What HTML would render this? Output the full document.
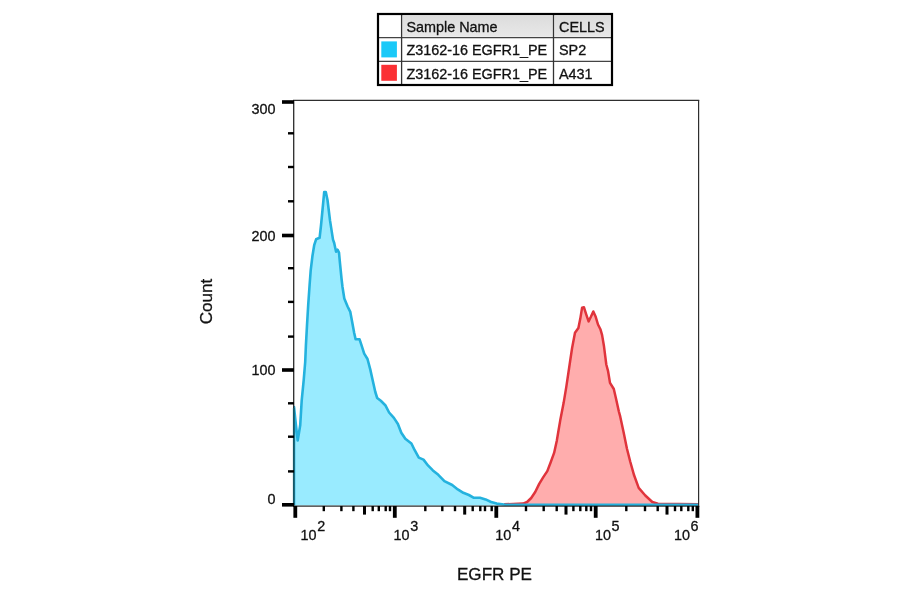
<!DOCTYPE html>
<html lang="en">
<head>
<meta charset="utf-8">
<title>EGFR PE histogram</title>
<style>
html,body{margin:0;padding:0;background:#fff;}
body{width:900px;height:594px;overflow:hidden;font-family:"Liberation Sans",Arial,sans-serif;}
svg{display:block;}
text{font-family:"Liberation Sans",Arial,sans-serif;fill:#111;stroke:#111;stroke-width:0.3px;}
.t14{font-size:14.4px;}
.t17{font-size:17.1px;}
</style>
</head>
<body>
<svg width="900" height="594" viewBox="0 0 900 594">
<rect x="0" y="0" width="900" height="594" fill="#fff"/>

<!-- legend table -->
<defs>
<linearGradient id="hg" x1="0" y1="0" x2="0" y2="1">
<stop offset="0" stop-color="#dcdcdc"/><stop offset="1" stop-color="#e8e8e8"/>
</linearGradient>
</defs>
<rect x="378" y="14" width="234" height="71" fill="#fff"/>
<rect x="402" y="15" width="151" height="22.5" fill="url(#hg)"/>
<rect x="554" y="15" width="57" height="22.5" fill="url(#hg)"/>
<rect x="402.5" y="15.5" width="150.5" height="21.5" fill="none" stroke="#f0f0f0" stroke-width="1"/>
<rect x="554.5" y="15.5" width="56" height="21.5" fill="none" stroke="#f0f0f0" stroke-width="1"/>
<line x1="379" y1="37.7" x2="611" y2="37.7" stroke="#444" stroke-width="1.2"/>
<line x1="379" y1="61.3" x2="611" y2="61.3" stroke="#444" stroke-width="1.2"/>
<line x1="401.6" y1="15" x2="401.6" y2="84" stroke="#333" stroke-width="1.3"/>
<line x1="553.5" y1="15" x2="553.5" y2="84" stroke="#333" stroke-width="1.3"/>
<rect x="378" y="14" width="234" height="71" fill="none" stroke="#000" stroke-width="2.2"/>
<rect x="381.3" y="41.4" width="15.6" height="16" fill="#1ac9f8"/>
<rect x="381.3" y="64.8" width="15.6" height="16" fill="#fb3034"/>
<text x="406.4" y="31.8" class="t14">Sample Name</text>
<text x="559.0" y="31.8" class="t14">CELLS</text>
<text x="406.4" y="55.2" class="t14">Z3162-16 EGFR1_PE</text>
<text x="559.0" y="55.2" class="t14">SP2</text>
<text x="406.4" y="78.8" class="t14">Z3162-16 EGFR1_PE</text>
<text x="559.0" y="78.8" class="t14">A431</text>

<!-- histograms -->
<clipPath id="pc"><rect x="293" y="100" width="406.2" height="406.6"/></clipPath>
<g clip-path="url(#pc)">
<path d="M504.0,505.5 L504.0,504.3 L523.1,503.6 L527.1,502.0 L531.2,498.0 L535.2,492.0 L539.2,483.9 L543.3,477.1 L547.3,471.1 L550.7,462.3 L554.1,452.9 L556.8,440.8 L558.6,430.0 L560.2,420.6 L563.6,403.1 L566.3,386.9 L568.3,373.5 L570.0,362.0 L572.1,348.0 L575.0,332.7 L578.4,328.0 L580.3,318.6 L582.1,307.6 L583.9,307.2 L586.2,314.4 L588.6,321.4 L590.9,316.8 L593.3,311.5 L595.7,316.8 L598.0,324.5 L600.4,329.2 L602.1,335.1 L603.9,345.7 L605.1,355.1 L606.3,364.5 L608.0,370.8 L610.0,382.9 L613.8,389.0 L616.1,399.0 L618.8,411.2 L620.2,416.4 L623.6,432.3 L626.9,448.5 L630.2,461.5 L634.1,475.3 L638.7,487.9 L645.3,495.5 L652.3,502.0 L657.9,503.8 L698.5,504.2 L698.5,505.5 Z" fill="#ffadad" stroke="none"/>
<path d="M504.0,504.3 L523.1,503.6 L527.1,502.0 L531.2,498.0 L535.2,492.0 L539.2,483.9 L543.3,477.1 L547.3,471.1 L550.7,462.3 L554.1,452.9 L556.8,440.8 L558.6,430.0 L560.2,420.6 L563.6,403.1 L566.3,386.9 L568.3,373.5 L570.0,362.0 L572.1,348.0 L575.0,332.7 L578.4,328.0 L580.3,318.6 L582.1,307.6 L583.9,307.2 L586.2,314.4 L588.6,321.4 L590.9,316.8 L593.3,311.5 L595.7,316.8 L598.0,324.5 L600.4,329.2 L602.1,335.1 L603.9,345.7 L605.1,355.1 L606.3,364.5 L608.0,370.8 L610.0,382.9 L613.8,389.0 L616.1,399.0 L618.8,411.2 L620.2,416.4 L623.6,432.3 L626.9,448.5 L630.2,461.5 L634.1,475.3 L638.7,487.9 L645.3,495.5 L652.3,502.0 L657.9,503.8 L698.5,504.2" fill="none" stroke="#e0343c" stroke-width="2.5" stroke-linejoin="round"/>
<path d="M294.0,505.5 L294.0,407.0 L295.8,424.0 L297.7,440.5 L300.2,425.3 L301.7,400.4 L303.7,380.2 L305.2,362.0 L305.9,345.6 L307.0,325.4 L308.2,305.2 L309.6,285.0 L310.7,270.4 L312.4,256.3 L314.2,245.2 L316.1,239.3 L319.6,237.8 L321.0,225.5 L322.5,210.0 L324.2,192.0 L325.8,192.0 L327.5,200.0 L330.0,220.4 L333.0,239.6 L334.2,243.0 L335.3,248.2 L336.1,251.7 L337.5,249.7 L339.0,252.7 L340.0,263.3 L341.5,278.5 L342.5,287.0 L344.3,298.5 L347.6,306.5 L350.3,311.9 L352.3,322.7 L354.2,333.0 L355.6,339.3 L359.5,339.2 L361.4,344.8 L364.2,353.6 L367.5,359.0 L370.2,369.1 L372.9,381.2 L375.3,392.0 L377.2,398.0 L380.8,400.8 L385.3,405.2 L389.1,412.5 L393.9,417.9 L397.9,424.0 L401.3,432.7 L405.3,438.8 L411.4,443.5 L414.7,450.2 L418.8,457.6 L423.5,459.6 L428.2,465.7 L432.9,470.4 L438.3,474.8 L444.4,481.1 L452.2,485.0 L457.8,489.4 L463.3,492.8 L468.9,495.0 L473.9,497.8 L480.0,497.8 L485.6,499.4 L491.1,502.0 L496.7,503.6 L505.6,504.7 L698.5,504.7 L698.5,505.5 Z" fill="#99ebff" stroke="none"/>
<path d="M294.0,505.5 L294.0,407.0 L295.8,424.0 L297.7,440.5 L300.2,425.3 L301.7,400.4 L303.7,380.2 L305.2,362.0 L305.9,345.6 L307.0,325.4 L308.2,305.2 L309.6,285.0 L310.7,270.4 L312.4,256.3 L314.2,245.2 L316.1,239.3 L319.6,237.8 L321.0,225.5 L322.5,210.0 L324.2,192.0 L325.8,192.0 L327.5,200.0 L330.0,220.4 L333.0,239.6 L334.2,243.0 L335.3,248.2 L336.1,251.7 L337.5,249.7 L339.0,252.7 L340.0,263.3 L341.5,278.5 L342.5,287.0 L344.3,298.5 L347.6,306.5 L350.3,311.9 L352.3,322.7 L354.2,333.0 L355.6,339.3 L359.5,339.2 L361.4,344.8 L364.2,353.6 L367.5,359.0 L370.2,369.1 L372.9,381.2 L375.3,392.0 L377.2,398.0 L380.8,400.8 L385.3,405.2 L389.1,412.5 L393.9,417.9 L397.9,424.0 L401.3,432.7 L405.3,438.8 L411.4,443.5 L414.7,450.2 L418.8,457.6 L423.5,459.6 L428.2,465.7 L432.9,470.4 L438.3,474.8 L444.4,481.1 L452.2,485.0 L457.8,489.4 L463.3,492.8 L468.9,495.0 L473.9,497.8 L480.0,497.8 L485.6,499.4 L491.1,502.0 L496.7,503.6 L505.6,504.7 L698.5,504.7" fill="none" stroke="#24b2de" stroke-width="2.6" stroke-linejoin="round"/>

</g>
<!-- axes frame -->
<line x1="293.7" y1="100" x2="293.7" y2="506.5" stroke="#2a2a2a" stroke-width="1.3"/>
<line x1="293" y1="100.4" x2="699.2" y2="100.4" stroke="#2e2e2e" stroke-width="1.2"/>
<line x1="698.6" y1="100" x2="698.6" y2="506.5" stroke="#2e2e2e" stroke-width="1.2"/>
<line x1="293" y1="506.1" x2="699.2" y2="506.1" stroke="#2e2e2e" stroke-width="1.3"/>
<line x1="293.7" y1="408" x2="293.7" y2="505" stroke="#155868" stroke-width="1.6"/>
<rect x="282" y="100.2" width="12" height="3.6" fill="#000"/>
<rect x="282" y="233.7" width="12" height="3.6" fill="#000"/>
<rect x="282" y="368.2" width="12" height="3.6" fill="#000"/>
<rect x="282" y="503.0" width="12" height="3.6" fill="#000"/>
<rect x="288" y="132.1" width="6" height="2.4" fill="#000"/>
<rect x="288" y="165.8" width="6" height="2.4" fill="#000"/>
<rect x="288" y="200.1" width="6" height="2.4" fill="#000"/>
<rect x="288" y="267.0" width="6" height="2.4" fill="#000"/>
<rect x="288" y="300.7" width="6" height="2.4" fill="#000"/>
<rect x="288" y="335.4" width="6" height="2.4" fill="#000"/>
<rect x="288" y="402.1" width="6" height="2.4" fill="#000"/>
<rect x="288" y="435.5" width="6" height="2.4" fill="#000"/>
<rect x="288" y="470.2" width="6" height="2.4" fill="#000"/>
<rect x="293.4" y="506" width="3.8" height="11.8" fill="#000"/>
<rect x="392.9" y="506" width="3.8" height="11.8" fill="#000"/>
<rect x="494.4" y="506" width="3.8" height="11.8" fill="#000"/>
<rect x="593.8" y="506" width="3.8" height="11.8" fill="#000"/>
<rect x="695.5" y="506" width="3.8" height="11.8" fill="#000"/>
<rect x="322.6" y="506" width="2.4" height="5.2" fill="#000"/>
<rect x="340.2" y="506" width="2.4" height="5.2" fill="#000"/>
<rect x="352.2" y="506" width="2.4" height="5.2" fill="#000"/>
<rect x="363.0" y="506" width="3" height="8.6" fill="#000"/>
<rect x="371.5" y="506" width="2.4" height="5.2" fill="#000"/>
<rect x="377.6" y="506" width="2.4" height="5.2" fill="#000"/>
<rect x="384.5" y="506" width="2.4" height="5.2" fill="#000"/>
<rect x="388.8" y="506" width="2.4" height="5.2" fill="#000"/>
<rect x="424.1" y="506" width="2.4" height="5.2" fill="#000"/>
<rect x="441.1" y="506" width="2.4" height="5.2" fill="#000"/>
<rect x="453.8" y="506" width="2.4" height="5.2" fill="#000"/>
<rect x="463.2" y="506" width="3" height="8.6" fill="#000"/>
<rect x="471.5" y="506" width="2.4" height="5.2" fill="#000"/>
<rect x="479.1" y="506" width="2.4" height="5.2" fill="#000"/>
<rect x="483.8" y="506" width="2.4" height="5.2" fill="#000"/>
<rect x="490.5" y="506" width="2.4" height="5.2" fill="#000"/>
<rect x="524.8" y="506" width="2.4" height="5.2" fill="#000"/>
<rect x="542.5" y="506" width="2.4" height="5.2" fill="#000"/>
<rect x="555.5" y="506" width="2.4" height="5.2" fill="#000"/>
<rect x="564.5" y="506" width="3" height="8.6" fill="#000"/>
<rect x="572.2" y="506" width="2.4" height="5.2" fill="#000"/>
<rect x="579.1" y="506" width="2.4" height="5.2" fill="#000"/>
<rect x="585.1" y="506" width="2.4" height="5.2" fill="#000"/>
<rect x="589.8" y="506" width="2.4" height="5.2" fill="#000"/>
<rect x="625.1" y="506" width="2.4" height="5.2" fill="#000"/>
<rect x="643.8" y="506" width="2.4" height="5.2" fill="#000"/>
<rect x="656.5" y="506" width="2.4" height="5.2" fill="#000"/>
<rect x="665.5" y="506" width="3" height="8.6" fill="#000"/>
<rect x="673.8" y="506" width="2.4" height="5.2" fill="#000"/>
<rect x="680.1" y="506" width="2.4" height="5.2" fill="#000"/>
<rect x="687.1" y="506" width="2.4" height="5.2" fill="#000"/>
<rect x="691.6" y="506" width="2.4" height="5.2" fill="#000"/>

<!-- y labels -->
<text x="275.6" y="113.9" text-anchor="end" class="t14">300</text>
<text x="275.6" y="240.6" text-anchor="end" class="t14">200</text>
<text x="275.6" y="375.1" text-anchor="end" class="t14">100</text>
<text x="275.6" y="503.8" text-anchor="end" class="t14">0</text>
<text x="300.6" y="540" class="t14">10</text><text x="317.2" y="531" class="t14">2</text>
<text x="393.6" y="540" class="t14">10</text><text x="410.2" y="531" class="t14">3</text>
<text x="495.3" y="540" class="t14">10</text><text x="511.9" y="531" class="t14">4</text>
<text x="594.9" y="540" class="t14">10</text><text x="611.5" y="531" class="t14">5</text>
<text x="674.0" y="540" class="t14">10</text><text x="690.6" y="531" class="t14">6</text>

<!-- axis titles -->
<text x="494.5" y="580" text-anchor="middle" class="t17">EGFR PE</text>
<text transform="translate(212,301.5) rotate(-90)" text-anchor="middle" class="t17">Count</text>
</svg>
</body>
</html>
